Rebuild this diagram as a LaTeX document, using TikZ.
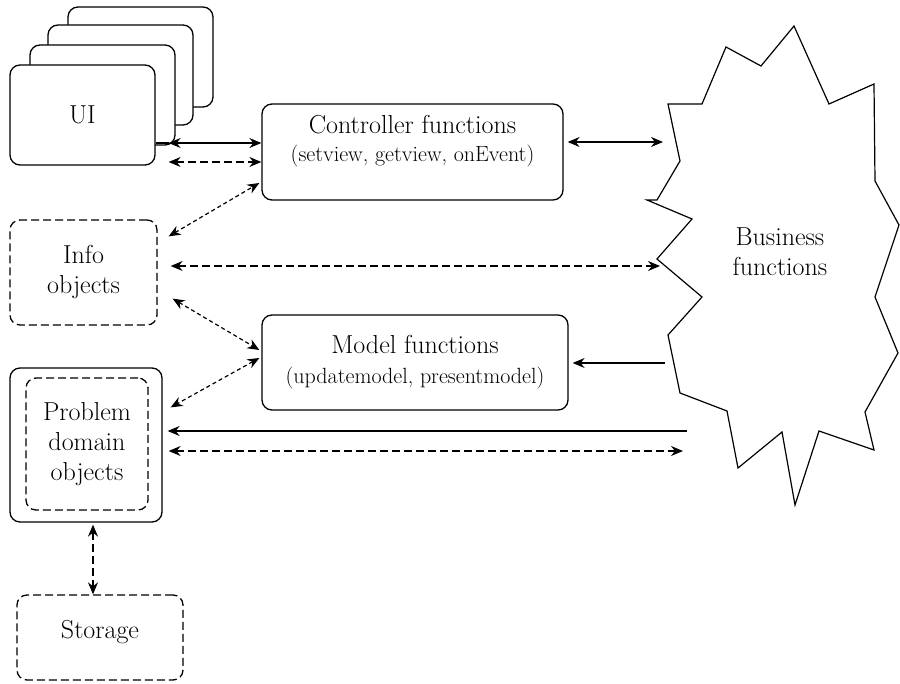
\documentclass[tikz,border=0pt]{standalone}
\usepackage{tikz}
\usetikzlibrary{arrows.meta,calc}

\newcommand{\bigfnt}{\fontsize{26}{30}\selectfont}
\newcommand{\subfnt}{\fontsize{22}{26}\selectfont}

\tikzset{
  box/.style={draw, line width=1.3pt, rounded corners=10pt, fill=white,
    inner sep=0pt, align=center, font=\bigfnt},
  dbox/.style={box, dash pattern=on 8pt off 4pt},
  txt/.style={align=center, font=\bigfnt, inner sep=0pt},
  link/.style={line width=1.2pt, {Stealth[length=12pt,width=10pt,inset=4pt]}-{Stealth[length=12pt,width=10pt,inset=4pt]}},
  tolink/.style={line width=1.2pt, -{Stealth[length=12pt,width=10pt,inset=4pt]}},
  dlink/.style={link, dash pattern=on 8pt off 4pt},
  flink/.style={link, dash pattern=on 4pt off 3pt}
}

\begin{document}
\begin{tikzpicture}[x=1pt,y=-1pt]
  \useasboundingbox (0,0) rectangle (900,684);

  % stack of UI windows
  \node[box, minimum width=145, minimum height=100] (ui4) at (140.5,57) {};
  \node[box, minimum width=145, minimum height=100] (ui3) at (120.5,75) {};
  \node[box, minimum width=145, minimum height=100] (ui2) at (102.5,95) {};
  \node[box, minimum width=145, minimum height=100] (ui1) at (82.5,115) {UI};

  \node[box, minimum width=301, minimum height=96] (ctrl) at (412.5,152) {};
  \node[txt] (ctrltxt) at (412.5,141) {Controller functions\\[-2pt]{\subfnt(setview, getview, onEvent)}};

  \node[dbox, minimum width=147, minimum height=105] (info) at (83.5,272.5) {Info\\objects};

  \node[box, minimum width=306, minimum height=95] (model) at (415,362.5) {Model functions\\{\subfnt(updatemodel, presentmodel)}};

  \node[box, minimum width=152, minimum height=154] (prob) at (86,445) {};
  \node[dbox, minimum width=122, minimum height=132] (probin) at (87,444) {Problem\\domain\\objects};

  \node[dbox, minimum width=166, minimum height=85] (stor) at (100,637.5) {};
  \node[txt] (stortxt) at (100,632) {Storage};

  % business functions
  \draw[line width=1.2pt] (668,104) -- (702,104) -- (726,47) -- (761,66) -- (794,26)
    -- (829,104) -- (874,84) -- (875,181) -- (899,225) -- (875,297) -- (898,353)
    -- (865,412) -- (874,450) -- (819,431) -- (795,505) -- (782,432) -- (738,468)
    -- (727,411) -- (680,393) -- (668,335) -- (702,297) -- (657,259) -- (692,219)
    -- (647,200) -- (657,200) -- (680,161) -- cycle;
  \node[txt] (biz) at (780,252) {Business\\functions};
  \coordinate (b1) at (663,142);
  \coordinate (b2) at (660,266);
  \coordinate (b3) at (665,363);
  \coordinate (b4) at (687,431);
  \coordinate (b5) at (683,451);

  % connectors
  \coordinate (u1) at ($(ui1.east |- 0,143)+(13,0)$);
  \draw[line width=1.2pt] (ui1.east |- u1) -- (u1);
  \draw[link] (u1) -- (ctrl.west |- u1);
  \draw[dlink] ($(ui1.east |- 0,162)+(13,0)$) -- (ctrl.west |- 0,162);
  \draw[flink] ($(info.north east)+(11,17)$) -- ($(ctrl.west |- 0,183)+(-2,0)$);
  \draw[link] ($(ctrl.east |- b1)+(4,0)$) -- (b1);
  \draw[dlink] ($(info.east |- b2)+(13,0)$) -- (b2);
  \draw[flink] ($(info.south east)+(15,-27)$) -- ($(model.west |- 0,350)+(-2,0)$);
  \draw[flink] ($(model.west |- 0,358)+(-2,0)$) -- ($(prob.north east)+(8,40)$);
  \draw[tolink] (b3) -- ($(model.east |- b3)+(4,0)$);
  \draw[tolink] (b4) -- ($(prob.east |- b4)+(5,0)$);
  \draw[dlink] ($(prob.east |- b5)+(6,0)$) -- (b5);
  \draw[dlink] ($(prob.south)+(7,2)$) -- ($(stor.north)+(-7,0)$);
\end{tikzpicture}
\end{document}
